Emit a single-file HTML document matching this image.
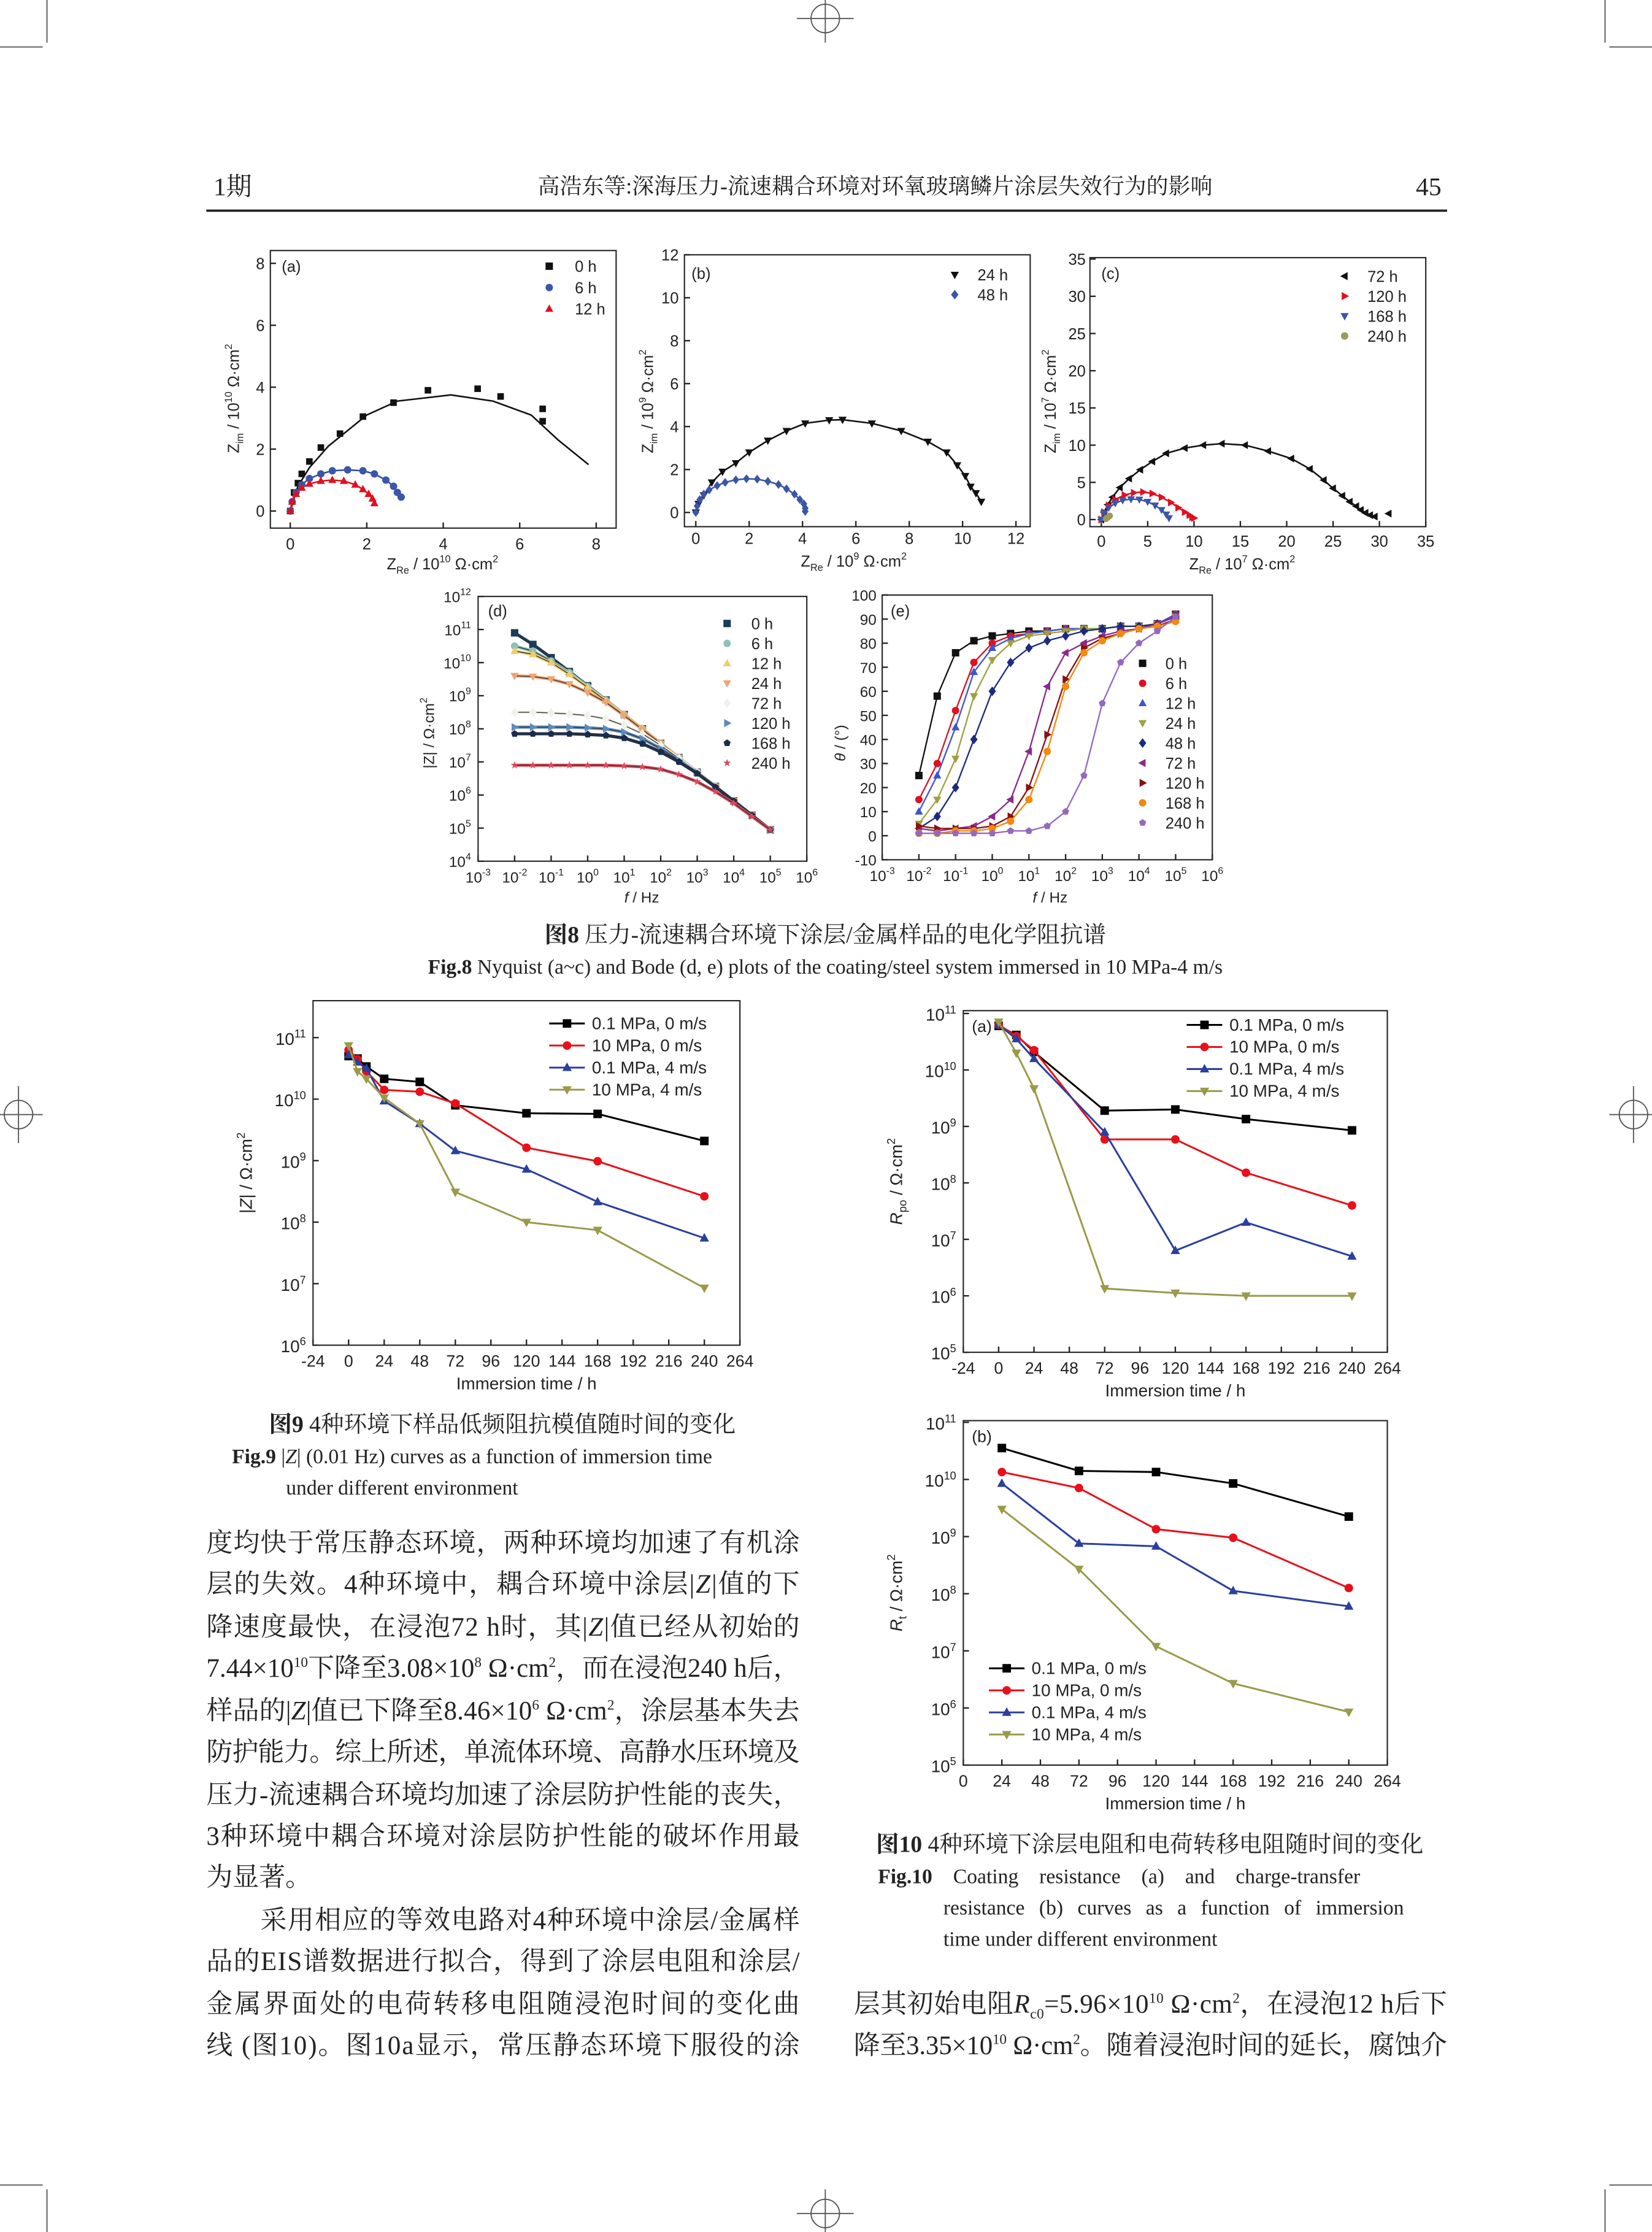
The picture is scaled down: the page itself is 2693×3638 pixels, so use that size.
<!DOCTYPE html>
<html><head><meta charset="utf-8">
<style>
html,body{margin:0;padding:0;background:#fff;}
svg{display:block;}
.t{font-family:"Liberation Sans",sans-serif;fill:#222;}
.s{font-family:"Liberation Serif","Noto Serif CJK SC",serif;fill:#222;}
</style></head>
<body>
<svg id="page" xmlns="http://www.w3.org/2000/svg" width="2693" height="3638" viewBox="0 0 1161 1568" preserveAspectRatio="none">
<g stroke="#555" stroke-width="0.8" fill="none">
<line x1="33" y1="0" x2="33" y2="30"/><line x1="0" y1="33" x2="30" y2="33"/>
<line x1="1128" y1="0" x2="1128" y2="30"/><line x1="1131" y1="33" x2="1161" y2="33"/>
<line x1="33" y1="1538" x2="33" y2="1568"/><line x1="0" y1="1535" x2="30" y2="1535"/>
<line x1="1128" y1="1538" x2="1128" y2="1568"/><line x1="1131" y1="1535" x2="1161" y2="1535"/>
<circle cx="580" cy="13" r="10"/><line x1="560" y1="13" x2="600" y2="13"/><line x1="580" y1="0" x2="580" y2="30"/>
<circle cx="580" cy="1555" r="10"/><line x1="560" y1="1555" x2="600" y2="1555"/><line x1="580" y1="1538" x2="580" y2="1568"/>
<circle cx="13" cy="783" r="10"/><line x1="0" y1="783" x2="30" y2="783"/><line x1="13" y1="763" x2="13" y2="803"/>
<circle cx="1148" cy="783" r="10"/><line x1="1131" y1="783" x2="1161" y2="783"/><line x1="1148" y1="763" x2="1148" y2="803"/>
</g>
<g>
<text class="s" x="150" y="137" font-size="18">1期</text>
<text class="s" x="615" y="136" font-size="15.5" text-anchor="middle">高浩东等:深海压力-流速耦合环境对环氧玻璃鳞片涂层失效行为的影响</text>
<text class="s" x="1013" y="137" font-size="18" text-anchor="end">45</text>
<line x1="145" y1="148" x2="1017" y2="148" stroke="#222" stroke-width="1.6"/>
</g>
<g id="charts"></g>
<g>
<text class="s" x="580" y="662" font-size="16.2" text-anchor="middle"><tspan font-weight="bold">图8</tspan> 压力-流速耦合环境下涂层/金属样品的电化学阻抗谱</text>
<text class="s" x="580" y="684" font-size="14.5" text-anchor="middle"><tspan font-weight="bold">Fig.8</tspan> Nyquist (a~c) and Bode (d, e) plots of the coating/steel system immersed in 10 MPa-4 m/s</text>
<text class="s" x="353" y="1006" font-size="16.2" text-anchor="middle"><tspan font-weight="bold">图9</tspan> 4种环境下样品低频阻抗模值随时间的变化</text>
<text class="s" x="163" y="1028" font-size="14.5"><tspan font-weight="bold">Fig.9</tspan> |<tspan font-style="italic">Z</tspan>| (0.01 Hz) curves as a function of immersion time</text>
<text class="s" x="201" y="1050" font-size="14.5">under different environment</text>
<text class="s" x="808" y="1301" font-size="16.2" text-anchor="middle"><tspan font-weight="bold">图10</tspan> 4种环境下涂层电阻和电荷转移电阻随时间的变化</text>
<text class="s" x="617" y="1323" font-size="14.5" word-spacing="11"><tspan font-weight="bold">Fig.10</tspan> Coating resistance (a) and charge-transfer</text>
<text class="s" x="663" y="1345" font-size="14.5" word-spacing="6.5">resistance (b) curves as a function of immersion</text>
<text class="s" x="663" y="1367" font-size="14.5">time under different environment</text>
</g>
<g font-size="18.5">
<text class="s" x="145" y="1090" textLength="417" lengthAdjust="spacing">度均快于常压静态环境，两种环境均加速了有机涂</text>
<text class="s" x="145" y="1119" textLength="417" lengthAdjust="spacing">层的失效。4种环境中，耦合环境中涂层|<tspan font-style="italic">Z</tspan>|值的下</text>
<text class="s" x="145" y="1149" textLength="417" lengthAdjust="spacing">降速度最快，在浸泡72 h时，其|<tspan font-style="italic">Z</tspan>|值已经从初始的</text>
<text class="s" x="145" y="1178" textLength="417" lengthAdjust="spacing">7.44×10<tspan dy="-7" font-size="10">10</tspan><tspan dy="7">下降至3.08×10</tspan><tspan dy="-7" font-size="10">8</tspan><tspan dy="7"> Ω·cm</tspan><tspan dy="-7" font-size="10">2</tspan><tspan dy="7">，而在浸泡240 h后，</tspan></text>
<text class="s" x="145" y="1208" textLength="417" lengthAdjust="spacing">样品的|<tspan font-style="italic">Z</tspan>|值已下降至8.46×10<tspan dy="-7" font-size="10">6</tspan><tspan dy="7"> Ω·cm</tspan><tspan dy="-7" font-size="10">2</tspan><tspan dy="7">，涂层基本失去</tspan></text>
<text class="s" x="145" y="1237" textLength="417" lengthAdjust="spacing">防护能力。综上所述，单流体环境、高静水压环境及</text>
<text class="s" x="145" y="1267" textLength="417" lengthAdjust="spacing">压力-流速耦合环境均加速了涂层防护性能的丧失，</text>
<text class="s" x="145" y="1296" textLength="417" lengthAdjust="spacing">3种环境中耦合环境对涂层防护性能的破坏作用最</text>
<text class="s" x="145" y="1325">为显著。</text>
<text class="s" x="183" y="1355" textLength="379" lengthAdjust="spacing">采用相应的等效电路对4种环境中涂层/金属样</text>
<text class="s" x="145" y="1384" textLength="417" lengthAdjust="spacing">品的EIS谱数据进行拟合，得到了涂层电阻和涂层/</text>
<text class="s" x="145" y="1414" textLength="417" lengthAdjust="spacing">金属界面处的电荷转移电阻随浸泡时间的变化曲</text>
<text class="s" x="145" y="1443" textLength="417" lengthAdjust="spacing">线 (图10)。图10a显示，常压静态环境下服役的涂</text>
<text class="s" x="600" y="1414" textLength="417" lengthAdjust="spacing">层其初始电阻<tspan font-style="italic">R</tspan><tspan dy="4" font-size="10">c0</tspan><tspan dy="-4">=5.96×10</tspan><tspan dy="-7" font-size="10">10</tspan><tspan dy="7"> Ω·cm</tspan><tspan dy="-7" font-size="10">2</tspan><tspan dy="7">，在浸泡12 h后下</tspan></text>
<text class="s" x="600" y="1443" textLength="417" lengthAdjust="spacing">降至3.35×10<tspan dy="-7" font-size="10">10</tspan><tspan dy="7"> Ω·cm</tspan><tspan dy="-7" font-size="10">2</tspan><tspan dy="7">。随着浸泡时间的延长，腐蚀介</tspan></text>
</g>
</svg>
<script>
// ---------- DATA ----------
// Fig 8a (units 1e10)
const aLabels=['0 h','6 h','12 h'];
const a0X=[0,0.1,0.2,0.3,0.5,0.8,1.3,1.9,2.7,3.6,4.9,5.5,6.6,6.6];
const a0Y=[0,0.6,0.9,1.2,1.6,2.05,2.5,3.05,3.5,3.9,3.95,3.7,3.3,2.9];
const a0FitX=[0,0.2,0.5,1,1.5,2,2.8,3.5,4.2,5.3,6.3,7,7.5,7.8];
const a0FitY=[0,0.8,1.4,2.1,2.6,3.1,3.55,3.65,3.75,3.55,3.1,2.3,1.8,1.5];
const a6X=[0,0.05,0.15,0.3,0.5,0.8,1.1,1.5,1.9,2.2,2.5,2.7,2.8,2.9];
const a6Y=[0,0.3,0.6,0.85,1.05,1.2,1.3,1.33,1.3,1.2,1.0,0.8,0.6,0.45];
const a12X=[0,0.05,0.15,0.3,0.5,0.8,1.1,1.4,1.7,1.9,2.05,2.15,2.2];
const a12Y=[0,0.3,0.55,0.75,0.88,0.97,1.0,0.97,0.85,0.7,0.55,0.4,0.25];
// Fig 8b (units 1e9)
const bLabels=['24 h','48 h'];
const b24X=[0,0.1,0.3,0.6,1,1.5,2,2.7,3.4,4.1,5,5.5,6.6,7.7,8.7,9.4,9.8,10.1,10.3,10.5,10.7];
const b24Y=[0,0.4,0.8,1.4,1.9,2.3,2.8,3.35,3.8,4.15,4.3,4.32,4.15,3.8,3.3,2.8,2.2,1.7,1.2,0.9,0.5];
const b48X=[0,0.05,0.15,0.3,0.5,0.8,1.1,1.5,1.9,2.3,2.7,3.1,3.4,3.7,3.9,4.05,4.1,4.1];
const b48Y=[0,0.3,0.6,0.85,1.05,1.25,1.4,1.52,1.57,1.55,1.45,1.3,1.1,0.85,0.6,0.4,0.2,0.05];
// Fig 8c (units 1e7)
const cLabels=['72 h','120 h','168 h','240 h'];
const c72X=[0,0.3,0.7,1.2,2,3,4.2,5.5,7,9,11,13,15.5,18,20.5,22.5,24,25,26,26.8,27.5,28,28.5,29,29.5];
const c72Y=[0,1,2,3,4.3,5.5,6.7,7.8,8.9,9.6,10,10.2,10,9.2,8.2,6.8,5.3,4.2,3.2,2.4,1.8,1.3,0.9,0.6,0.4];
const c72OutX=[31]; const c72OutY=[0.8];
const c120X=[0,0.3,0.8,1.5,2.5,3.5,4.5,5.5,6.5,7.5,8.3,9,9.5,9.8,10];
const c120Y=[0,1,1.9,2.7,3.3,3.6,3.7,3.5,3.0,2.3,1.6,1.0,0.6,0.3,0.2];
const c168X=[0,0.3,0.8,1.5,2.3,3.2,4.1,5,5.8,6.5,7,7.3];
const c168Y=[0,0.9,1.6,2.2,2.6,2.75,2.7,2.4,1.9,1.3,0.7,0.2];
const c240X=[0.5,0.7,0.9]; const c240Y=[0.1,0.3,0.5];
// Fig 8d: log10 f and log10 |Z|
const dLabels=['0 h','6 h','12 h','24 h','72 h','120 h','168 h','240 h'];
const dLogF=[-2,-1.5,-1,-0.5,0,0.5,1,1.5,2,2.5,3,3.5,4,4.5,5];
const d0=[10.9,10.55,10.15,9.73,9.3,8.87,8.43,8.0,7.56,7.13,6.69,6.26,5.82,5.39,4.95];
const d6=[10.5,10.35,10.05,9.7,9.28,8.86,8.43,8.0,7.56,7.13,6.69,6.26,5.82,5.39,4.95];
const d12=[10.35,10.25,10.0,9.65,9.25,8.85,8.42,8.0,7.56,7.13,6.69,6.26,5.82,5.39,4.95];
const d24=[9.6,9.58,9.5,9.35,9.1,8.8,8.4,7.98,7.56,7.13,6.69,6.26,5.82,5.39,4.95];
const d72=[8.5,8.5,8.48,8.45,8.4,8.3,8.1,7.85,7.5,7.1,6.68,6.25,5.82,5.39,4.95];
const d120=[8.05,8.05,8.05,8.05,8.03,8.0,7.9,7.7,7.4,7.05,6.67,6.25,5.82,5.39,4.95];
const d168=[7.85,7.85,7.85,7.85,7.83,7.8,7.72,7.55,7.3,7.0,6.65,6.24,5.82,5.39,4.95];
const d240=[6.9,6.9,6.9,6.9,6.9,6.9,6.88,6.85,6.78,6.62,6.4,6.1,5.75,5.35,4.95];
// Fig 8e: phase (deg)
const eLabels=['0 h','6 h','12 h','24 h','48 h','72 h','120 h','168 h','240 h'];
const eLogF=[-2,-1.5,-1,-0.5,0,0.5,1,1.5,2,2.5,3,3.5,4,4.5,5];
const e0=[25,58,76,81,83,84,85,85,86,86,86,87,87,88,92];
const e6=[15,30,52,72,80,83,84,85,86,86,86,87,87,88,92];
const e12=[10,25,45,68,78,82,84,85,86,86,86,87,87,88,92];
const e24=[5,15,32,58,73,80,83,84,85,86,86,87,87,88,91];
const e48=[3,8,20,40,60,72,78,81,83,85,86,87,87,88,91];
const e72=[3,2,3,4,8,15,35,62,76,80,83,85,86,88,91];
const e120=[4,3,3,3,4,8,20,42,65,78,82,84,86,87,90];
const e168=[1,1,2,2,3,6,15,35,62,76,81,84,86,87,89];
const e240=[1,1,1,1,1,2,2,4,10,25,55,72,80,85,91];
// Fig 9: log10 |Z|
const envLabels=['0.1 MPa, 0 m/s','10 MPa, 0 m/s','0.1 MPa, 4 m/s','10 MPa, 4 m/s'];
const f9Time=[0,6,12,24,48,72,120,168,240];
const f9A=[10.7,10.66,10.53,10.33,10.28,9.9,9.77,9.76,9.32];
const f9B=[10.8,10.65,10.45,10.15,10.12,9.93,9.21,8.99,8.42];
const f9C=[10.72,10.6,10.5,9.97,9.6,9.16,8.86,8.33,7.74];
const f9D=[10.87,10.45,10.33,10.02,9.6,8.49,8.0,7.87,6.93];
// Fig 10a: log10 Rpo
const f10aTime=[0,12,24,72,120,168,240];
const f10aA=[10.78,10.62,10.32,9.28,9.3,9.13,8.93];
const f10aB=[10.8,10.6,10.35,8.77,8.77,8.18,7.6];
const f10aC=[10.8,10.55,10.2,8.9,6.8,7.3,6.7];
const f10aD=[10.85,10.3,9.67,6.13,6.05,6.0,6.0];
// Fig 10b: log10 Rt
const f10bTime=[24,72,120,168,240];
const f10bA=[10.55,10.15,10.13,9.93,9.35];
const f10bB=[10.13,9.85,9.13,8.98,8.1];
const f10bC=[9.93,8.88,8.83,8.05,7.78];
const f10bD=[9.48,8.43,7.08,6.43,5.93];

// ---------- HELPERS ----------
const NS='http://www.w3.org/2000/svg';
const root=document.getElementById('charts');
function mk(tag,attrs,parent,txt){const e=document.createElementNS(NS,tag);for(const k in attrs)e.setAttribute(k,attrs[k]);if(txt!==undefined)e.textContent=txt;(parent||root).appendChild(e);return e;}
function lin(d0,d1,p0,p1){return v=>p0+(v-d0)*(p1-p0)/(d1-d0);}
function marker(g,shape,x,y,r,color){
  let e;
  if(shape==='sq')e=mk('rect',{x:x-r,y:y-r,width:2*r,height:2*r,fill:color},g);
  else if(shape==='ci')e=mk('circle',{cx:x,cy:y,r:r,fill:color},g);
  else{let p;
    if(shape==='tu')p=[[x,y-r*1.2],[x-r*1.1,y+r*0.8],[x+r*1.1,y+r*0.8]];
    else if(shape==='td')p=[[x,y+r*1.2],[x-r*1.1,y-r*0.8],[x+r*1.1,y-r*0.8]];
    else if(shape==='tl')p=[[x-r*1.2,y],[x+r*0.8,y-r*1.1],[x+r*0.8,y+r*1.1]];
    else if(shape==='tr')p=[[x+r*1.2,y],[x-r*0.8,y-r*1.1],[x-r*0.8,y+r*1.1]];
    else if(shape==='di')p=[[x,y-r*1.3],[x+r,y],[x,y+r*1.3],[x-r,y]];
    else if(shape==='st'){p=[];for(let i=0;i<10;i++){const a=-Math.PI/2+i*Math.PI/5,rr=i%2?r*0.45:r*1.1;p.push([x+rr*Math.cos(a),y+rr*Math.sin(a)]);}}
    else {p=[];for(let i=0;i<5;i++){const a=-Math.PI/2+i*2*Math.PI/5;p.push([x+r*Math.cos(a),y+r*Math.sin(a)]);}}
    e=mk('polygon',{points:p.map(q=>q.join(',')).join(' '),fill:color},g);}
  return e;
}
function frame(g,x0,y0,x1,y1){mk('rect',{x:x0,y:y0,width:x1-x0,height:y1-y0,fill:'none',stroke:'#222','stroke-width':0.9},g);}
function label(g,x,y,txt,size,anchor){return mk('text',{x:x,y:y,class:'t','font-size':size||11,'text-anchor':anchor||'middle'},g,txt);}
function powLabel(g,x,y,exp,size,anchor){const t=mk('text',{x:x,y:y,class:'t','font-size':size||11,'text-anchor':anchor||'middle'},g,'10');mk('tspan',{dy:-5,'font-size':(size||11)*0.65},t,String(exp));return t;}
function line(g,xs,ys,X,Y,color,w){return mk('polyline',{points:xs.map((v,i)=>X(v)+','+Y(ys[i])).join(' '),fill:'none',stroke:color,'stroke-width':w||1},g);}
function pts(g,xs,ys,X,Y,shape,color,r){xs.forEach((v,i)=>marker(g,shape,X(v),Y(ys[i]),r||2.5,color));}

// ---------- FIG 8a ----------
{const g=mk('g',{});


const X=lin(0,8,204,419),Y=lin(0,8,359,185);
frame(g,190,176,433,371);
[0,2,4,6,8].forEach(v=>{label(g,X(v),386,String(v));mk('line',{x1:X(v),y1:371,x2:X(v),y2:367,stroke:'#222'},g);label(g,186,Y(v)+4,String(v),11,'end');mk('line',{x1:190,y1:Y(v),x2:194,y2:Y(v),stroke:'#222'},g);});
label(g,198,191,'(a)',11,'start');
const xt=label(g,311,400,'Z',11);mk('tspan',{dy:3,'font-size':7},xt,'Re');mk('tspan',{dy:-3},xt,' / 10');mk('tspan',{dy:-5,'font-size':7},xt,'10');mk('tspan',{dy:5},xt,' Ω·cm');mk('tspan',{dy:-5,'font-size':7},xt,'2');
const yt=label(g,0,0,'Z',11);yt.setAttribute('transform','translate(168,280) rotate(-90)');mk('tspan',{dy:3,'font-size':7},yt,'im');mk('tspan',{dy:-3},yt,' / 10');mk('tspan',{dy:-5,'font-size':7},yt,'10');mk('tspan',{dy:5},yt,' Ω·cm');mk('tspan',{dy:-5,'font-size':7},yt,'2');
line(g,a0FitX,a0FitY,X,Y,'#111',1.1);line(g,a6X,a6Y,X,Y,'#3050a0',1.1);line(g,a12X,a12Y,X,Y,'#e01020',1.1);
pts(g,a0X,a0Y,X,Y,'sq','#111',2.3);pts(g,a6X,a6Y,X,Y,'ci','#3b55a8',2.6);pts(g,a12X,a12Y,X,Y,'tu','#e01020',2.6);
const sh=['sq','ci','tu'],co=['#111','#3b55a8','#e01020'];
aLabels.forEach((s,i)=>{marker(g,sh[i],386,187+i*15,2.6,co[i]);label(g,404,191+i*15,s,11,'start');});}

// ---------- FIG 8b ----------
{const g=mk('g',{});


const X=lin(0,12,489,714),Y=lin(0,12,360,179);
frame(g,481,179,724,370);
[0,2,4,6,8,10,12].forEach(v=>{label(g,X(v),382,String(v));mk('line',{x1:X(v),y1:370,x2:X(v),y2:366,stroke:'#222'},g);label(g,477,Y(v)+4,String(v),11,'end');mk('line',{x1:481,y1:Y(v),x2:485,y2:Y(v),stroke:'#222'},g);});
label(g,486,196,'(b)',11,'start');
const xt=label(g,600,398,'Z',11);mk('tspan',{dy:3,'font-size':7},xt,'Re');mk('tspan',{dy:-3},xt,' / 10');mk('tspan',{dy:-5,'font-size':7},xt,'9');mk('tspan',{dy:5},xt,' Ω·cm');mk('tspan',{dy:-5,'font-size':7},xt,'2');
const yt=label(g,0,0,'Z',11);yt.setAttribute('transform','translate(459,282) rotate(-90)');mk('tspan',{dy:3,'font-size':7},yt,'im');mk('tspan',{dy:-3},yt,' / 10');mk('tspan',{dy:-5,'font-size':7},yt,'9');mk('tspan',{dy:5},yt,' Ω·cm');mk('tspan',{dy:-5,'font-size':7},yt,'2');
line(g,b24X,b24Y,X,Y,'#111',1.1);line(g,b48X,b48Y,X,Y,'#3b55a8',1.1);
pts(g,b24X,b24Y,X,Y,'td','#111',2.6);pts(g,b48X,b48Y,X,Y,'di','#3b55a8',2.4);
const sh=['td','di'],co=['#111','#3b55a8'];
bLabels.forEach((s,i)=>{marker(g,sh[i],671,193+i*14,2.6,co[i]);label(g,687,197+i*14,s,11,'start');});}

// ---------- FIG 8c ----------
{const g=mk('g',{});


const X=lin(0,35,774,1002),Y=lin(0,35,365,182);
frame(g,766,181,1002,370);
[0,5,10,15,20,25,30,35].forEach(v=>{label(g,X(v),384,String(v));mk('line',{x1:X(v),y1:370,x2:X(v),y2:366,stroke:'#222'},g);label(g,763,Y(v)+4,String(v),11,'end');mk('line',{x1:766,y1:Y(v),x2:770,y2:Y(v),stroke:'#222'},g);});
label(g,774,196,'(c)',11,'start');
const xt=label(g,873,400,'Z',11);mk('tspan',{dy:3,'font-size':7},xt,'Re');mk('tspan',{dy:-3},xt,' / 10');mk('tspan',{dy:-5,'font-size':7},xt,'7');mk('tspan',{dy:5},xt,' Ω·cm');mk('tspan',{dy:-5,'font-size':7},xt,'2');
const yt=label(g,0,0,'Z',11);yt.setAttribute('transform','translate(742,282) rotate(-90)');mk('tspan',{dy:3,'font-size':7},yt,'im');mk('tspan',{dy:-3},yt,' / 10');mk('tspan',{dy:-5,'font-size':7},yt,'7');mk('tspan',{dy:5},yt,' Ω·cm');mk('tspan',{dy:-5,'font-size':7},yt,'2');
line(g,c72X,c72Y,X,Y,'#111',1.1);line(g,c120X,c120Y,X,Y,'#e01020',1.1);line(g,c168X,c168Y,X,Y,'#3b55a8',1.1);
pts(g,c72X,c72Y,X,Y,'tl','#111',2.5);pts(g,c72OutX,c72OutY,X,Y,'tl','#111',2.5);pts(g,c120X,c120Y,X,Y,'tr','#e01020',2.5);pts(g,c168X,c168Y,X,Y,'td','#3b55a8',2.5);pts(g,c240X,c240Y,X,Y,'ci','#9a9a5a',2.3);
const sh=['tl','tr','td','ci'],co=['#111','#e01020','#3b55a8','#9a9a5a'];
cLabels.forEach((s,i)=>{marker(g,sh[i],945,194+i*14,2.6,co[i]);label(g,961,198+i*14,s,11,'start');});}

// ---------- FIG 8d ----------
{const g=mk('g',{});


const X=lin(-3,6,336,567),Y=lin(4,12,605,419);
frame(g,336,419,567,605);
for(let e=-3;e<=6;e++){powLabel(g,X(e),620,e,10.5);mk('line',{x1:X(e),y1:605,x2:X(e),y2:601,stroke:'#222'},g);}
for(let e=4;e<=12;e++){powLabel(g,331,Y(e)+4,e,10.5,'end');mk('line',{x1:336,y1:Y(e),x2:340,y2:Y(e),stroke:'#222'},g);}
label(g,343,433,'(d)',11,'start');
const xt=label(g,451,634,'',10.5);mk('tspan',{'font-style':'italic'},xt,'f');mk('tspan',{},xt,' / Hz');
const yt=label(g,0,0,'|Z| / Ω·cm',10.5);yt.setAttribute('transform','translate(305,515) rotate(-90)');mk('tspan',{dy:-5,'font-size':7},yt,'2');
const ser=[d0,d6,d12,d24,d72,d120,d168,d240],sh=['sq','ci','tu','td','di','tr','pe','st'],co=['#1d3b57','#8fc0b8','#f0cc70','#f0a574','#eef2ea','#5f8ab8','#1a2c4c','#e0485a'];
ser.forEach((s,i)=>{line(g,dLogF,s,X,Y,co[i],2.2);line(g,dLogF,s,X,Y,'#333',0.6);pts(g,dLogF,s,X,Y,sh[i],co[i],2.6);});
dLabels.forEach((s,i)=>{marker(g,sh[i],511,438+i*14,2.6,co[i]);label(g,528,442+i*14,s,11,'start');});}

// ---------- FIG 8e ----------
{const g=mk('g',{});


const X=lin(-3,6,620,852),Y=lin(-10,100,604,418);
frame(g,620,418,852,604);
for(let e=-3;e<=6;e++){powLabel(g,X(e),619,e,10.5);mk('line',{x1:X(e),y1:604,x2:X(e),y2:600,stroke:'#222'},g);}
for(let v=-10;v<=100;v+=10){label(g,616,Y(v)+4,String(v),10.5,'end');mk('line',{x1:620,y1:Y(v),x2:624,y2:Y(v),stroke:'#222'},g);}
label(g,626,433,'(e)',11,'start');
const xt=label(g,738,634,'',10.5);mk('tspan',{'font-style':'italic'},xt,'f');mk('tspan',{},xt,' / Hz');
const yt=label(g,0,0,'',10.5);yt.setAttribute('transform','translate(594,522) rotate(-90)');mk('tspan',{'font-style':'italic'},yt,'θ');mk('tspan',{},yt,' / (°)');
const ser=[e0,e6,e12,e24,e48,e72,e120,e168,e240],sh=['sq','ci','tu','td','di','tl','tr','ci','pe'],co=['#111','#e01020','#3b55d0','#a0a040','#1c2a80','#8a2a8a','#8a1010','#f08a10','#9468c0'];
ser.forEach((s,i)=>{line(g,eLogF,s,X,Y,co[i],1);pts(g,eLogF,s,X,Y,sh[i],co[i],2.6);});
eLabels.forEach((s,i)=>{marker(g,sh[i],803,466+i*14,2.6,co[i]);label(g,819,470+i*14,s,11,'start');});}

// ---------- time charts ----------
const envShapes=['sq','ci','tu','td'],envColors=['#000','#e8101a','#2b3fa0','#9a9a4a'];
function timeChart(name,fx0,fy0,fx1,fy1,tmin,tmax,tickT,dmin,dmax,times,series,legX,legY,ylab,ysub,tag){
  const g=mk('g',{});
  
  
  const X=lin(tmin,tmax,fx0,fx1),Y=lin(dmin,dmax,fy1,fy0);
  frame(g,fx0,fy0,fx1,fy1);
  tickT.forEach(t=>{label(g,X(t),fy1+15,String(t),11.5);mk('line',{x1:X(t),y1:fy1,x2:X(t),y2:fy1-4,stroke:'#222'},g);});
  for(let e=Math.ceil(dmin);e<=Math.floor(dmax);e++){powLabel(g,fx0-5,Y(e)+5,e,12,'end');mk('line',{x1:fx0,y1:Y(e),x2:fx0+4,y2:Y(e),stroke:'#222'},g);}
  label(g,(fx0+fx1)/2,fy1+31,'Immersion time / h',12);
  const yt=mk('text',{class:'t','font-size':12,'text-anchor':'middle',transform:'translate('+(fx0-43)+','+((fy0+fy1)/2)+') rotate(-90)'},g);
  if(ysub){mk('tspan',{'font-style':'italic'},yt,ylab);mk('tspan',{dy:3,'font-size':8},yt,ysub);mk('tspan',{dy:-3},yt,' / Ω·cm');}
  else{mk('tspan',{},yt,'|');mk('tspan',{'font-style':'italic'},yt,'Z');mk('tspan',{},yt,'| / Ω·cm');}
  mk('tspan',{dy:-5,'font-size':8},yt,'2');
  if(tag)label(g,fx0+6,fy0+15,tag,11.5,'start');
  series.forEach((s,i)=>{line(g,times,s,X,Y,envColors[i],1.3);pts(g,times,s,X,Y,envShapes[i],envColors[i],3);});
  envLabels.forEach((s,i)=>{const y=legY+i*15.5;mk('line',{x1:legX,y1:y,x2:legX+25,y2:y,stroke:envColors[i],'stroke-width':1.3},g);marker(g,envShapes[i],legX+12.5,y,3,envColors[i]);label(g,legX+30,y+4,s,12,'start');});
}
timeChart('fig9-impedance-chart',220,703,520,945,-24,264,[-24,0,24,48,72,96,120,144,168,192,216,240,264],6,11.6,f9Time,[f9A,f9B,f9C,f9D],386,719,'','',null);
timeChart('fig10a-coating-resistance-chart',677,710,975,950,-24,264,[-24,0,24,48,72,96,120,144,168,192,216,240,264],5,11.05,f10aTime,[f10aA,f10aB,f10aC,f10aD],834,720,'R','po','(a)');
timeChart('fig10b-charge-transfer-chart',677,998,975,1240,0,264,[0,24,48,72,96,120,144,168,192,216,240,264],5,11.03,f10bTime,[f10bA,f10bB,f10bC,f10bD],695,1172,'R','t','(b)');
</script>
</body></html>
